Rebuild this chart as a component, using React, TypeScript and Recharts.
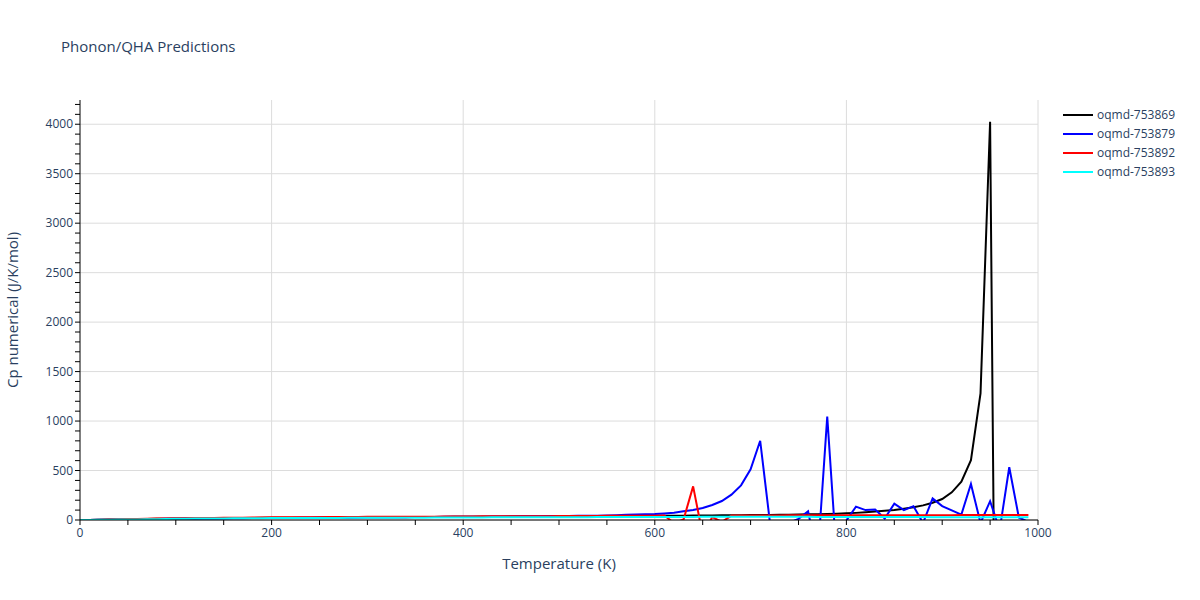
import React from 'react';
import { LineChart, Line, XAxis, YAxis, CartesianGrid } from 'recharts';

const temps = [0,10,20,30,40,50,60,70,80,90,100,110,120,130,140,150,160,170,180,190,200,210,220,230,240,250,260,270,280,290,300,310,320,330,340,350,360,370,380,390,400,410,420,430,440,450,460,470,480,490,500,510,520,530,540,550,560,570,580,590,600,610,620,630,640,650,660,670,680,690,700,710,720,730,740,750,760,770,780,790,800,810,820,830,840,850,860,870,880,890,900,910,920,930,940,950,960,970,980,990];

const s753869 = [0,1,2,4,6,8,10,11,12,13,
14,15,16,17,18,19,20,20,21,22,
22,23,23,24,24,25,25,26,26,27,
27,28,28,29,29,30,30,31,31,32,
32,33,33,34,34,35,35,36,36,37,
37,38,38,39,39,40,40,41,41,42,
43,43,44,44,45,46,46,47,48,49,
50,50,51,52,53,55,57,59,61,64,
67,72,78,85,93,102,114,128,148,175,
212,280,388,605,1280,4025,-7000,-6000,-5000,-4000];

const s753879 = [0,1,2,3,5,7,9,10,11,12,
13,14,14,15,16,16,17,18,19,19,
20,21,21,22,23,24,24,25,26,26,
27,28,28,29,29,30,31,31,32,32,
33,34,34,35,35,36,37,37,38,39,
40,41,42,43,44,46,49,52,55,57,
60,66,74,88,101,121,152,192,256,350,
512,801,-10,-60,-30,12,88,-380,1045,-400,
-5,135,100,105,15,165,100,140,-30,218,
140,97,55,364,-30,190,-100,533,25,-20];

const s753892 = [0,1,3,5,7,9,11,13,14,15,
17,18,19,20,21,22,23,24,25,26,
27,27,28,28,29,29,30,30,31,31,
32,32,33,33,33,34,34,34,35,35,
36,36,37,37,37,38,38,38,39,39,
40,40,41,41,41,42,42,42,43,43,
44,45,-30,5,340,-150,30,-20,45,45,
46,46,46,46,47,47,47,47,47,48,
48,48,48,48,48,49,49,49,49,49,
49,49,50,50,50,50,50,50,50,50];

const s753893 = [0,1,2,3,4,5,6,7,8,10,
12,13,14,15,16,16,17,17,18,18,
19,19,20,20,20,21,21,21,22,22,
22,23,23,23,24,24,24,25,25,25,
26,26,26,27,27,27,28,28,28,28,
29,29,29,29,30,30,30,30,30,31,
31,31,31,31,31,32,32,32,32,32,
32,32,32,32,32,32,32,31,31,31,
31,31,31,31,30,30,30,30,30,29,
29,29,29,28,28,28,28,27,27,27];

const seriesNames = ['oqmd-753869', 'oqmd-753879', 'oqmd-753892', 'oqmd-753893'];
const seriesColors = ['#000000', '#0000ff', '#ff0000', '#00ffff'];
const seriesValues = [s753869, s753879, s753892, s753893];

const xTicks = [0,50,100,150,200,250,300,350,400,450,500,550,600,650,700,750,800,850,900,950,1000];
const xMajor = [200,400,600,800,1000];
const yTicks = [0,100,200,300,400,500,600,700,800,900,1000,1100,1200,1300,1400,1500,1600,1700,1800,1900,2000,2100,2200,2300,2400,2500,2600,2700,2800,2900,3000,3100,3200,3300,3400,3500,3600,3700,3800,3900,4000,4100,4200];
const yMajor = [0,500,1000,1500,2000,2500,3000,3500,4000];

const data = temps.map((t, i) => {
  const row: Record<string, number> = { T: t };
  seriesNames.forEach((n, k) => { row[n] = seriesValues[k][i]; });
  return row;
});

const FONT = '"Open Sans", verdana, arial, sans-serif';
const TXT = '#2a3f5f';

const XTick = (props: any) => {
  const { x, y, payload } = props;
  if (payload.value % 200 !== 0) return <g />;
  return (
    <text x={x} y={y + 10} textAnchor="middle" fontSize={12} fontFamily={FONT} fill={TXT}>
      {payload.value}
    </text>
  );
};

const YTick = (props: any) => {
  const { x, y, payload } = props;
  if (payload.value % 500 !== 0) return <g />;
  return (
    <text x={x} y={y + 4} textAnchor="end" fontSize={12} fontFamily={FONT} fill={TXT}>
      {payload.value}
    </text>
  );
};

export default function App() {
  return (
    <div style={{ position: 'absolute', left: 0, top: 0, width: 1200, height: 600, background: '#fff' }}>
      <LineChart width={1200} height={600} data={data} margin={{ top: 100, right: 162, bottom: 50, left: 30 }}>
        <CartesianGrid stroke="#dcdcdc" strokeWidth={1} horizontalValues={yMajor} verticalValues={xMajor} />
        <XAxis dataKey="T" type="number" domain={[0, 1000]} ticks={xTicks} interval={0} tick={<XTick />} tickSize={5} height={30} axisLine={{ stroke: '#000' }} tickLine={{ stroke: '#000' }} allowDataOverflow />
        <YAxis type="number" domain={[0, 4245]} ticks={yTicks} interval={0} tick={<YTick />} tickSize={5} width={50} axisLine={{ stroke: '#000' }} tickLine={{ stroke: '#000' }} allowDataOverflow />
        {seriesNames.map((n, k) => (
          <Line key={n} type="linear" dataKey={n} stroke={seriesColors[k]} strokeWidth={2} dot={false} isAnimationActive={false} />
        ))}
      </LineChart>
      <div style={{ position: 'absolute', left: 61, top: 36, fontFamily: FONT, fontSize: 15, color: TXT }}>
        Phonon/QHA Predictions
      </div>
      <div style={{ position: 'absolute', left: 559, top: 563, width: 0, height: 0 }}>
        <div style={{ position: 'absolute', transform: 'translate(-50%, -50%)', whiteSpace: 'nowrap', fontFamily: FONT, fontSize: 15, color: TXT }}>
          Temperature (K)
        </div>
      </div>
      <div style={{ position: 'absolute', left: 12, top: 310, width: 0, height: 0 }}>
        <div style={{ position: 'absolute', transform: 'translate(-50%, -50%) rotate(-90deg)', whiteSpace: 'nowrap', fontFamily: FONT, fontSize: 15, color: TXT }}>
          Cp numerical (J/K/mol)
        </div>
      </div>
      <div style={{ position: 'absolute', left: 1063, top: 105, fontFamily: FONT, fontSize: 12, color: TXT }}>
        {seriesNames.map((n, k) => (
          <div key={n} style={{ display: 'flex', alignItems: 'center', height: 19 }}>
            <svg width={34} height={10}>
              <line x1={0} y1={5} x2={30} y2={5} stroke={seriesColors[k]} strokeWidth={2} />
            </svg>
            <span>{n}</span>
          </div>
        ))}
      </div>
    </div>
  );
}
